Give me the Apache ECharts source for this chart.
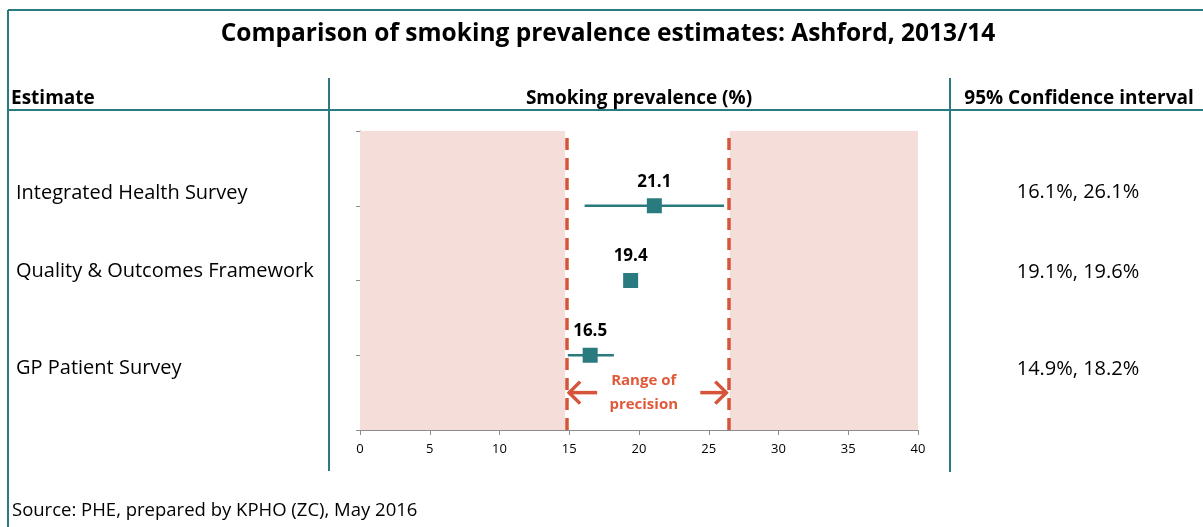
<!DOCTYPE html>
<html><head><meta charset="utf-8">
<script src="https://cdn.jsdelivr.net/npm/echarts@6/dist/echarts.min.js"></script>
<style>html,body{margin:0;padding:0;background:#fff}#c{width:1203px;height:527px}</style>
</head><body><div id="c"></div>
<script>
// ---- data ----
const categories = ['Integrated Health Survey', 'Quality & Outcomes Framework', 'GP Patient Survey'];
const estimates = [21.1, 19.4, 16.5];
const ciLower = [16.1, 19.1, 14.9];
const ciUpper = [26.1, 19.6, 18.2];
const rowPos = [3, 2, 1];
const ciLabels = ['16.1%, 26.1%', '19.1%, 19.6%', '14.9%, 18.2%'];
const precisionRange = [14.85, 26.4];
const shadeLeft = [0, 14.7];
const shadeRight = [26.5, 40];
const xTickLabels = ['0', '5', '10', '15', '20', '25', '30', '35', '40'];

const TEAL = '#2a7b7f';
const RED = '#d6553a';
const FONT = '"Open Sans"';

const chart = echarts.init(document.getElementById('c'), null, {renderer: 'canvas'});

const pointData = estimates.map((v, i) => [v, rowPos[i]]);
const ciData = ciLower.map((lo, i) => [lo, ciUpper[i], rowPos[i]]);

const labelRows = [193, 271, 368];
const ciRows = [192, 272, 369];

const graphics = [
  {type: 'line', shape: {x1: 8, y1: 10, x2: 8, y2: 527}, style: {stroke: TEAL, lineWidth: 2}},
  {type: 'line', shape: {x1: 8, y1: 10, x2: 1203, y2: 10}, style: {stroke: TEAL, lineWidth: 2}},
  {type: 'line', shape: {x1: 8, y1: 110, x2: 1203, y2: 110}, style: {stroke: TEAL, lineWidth: 2}},
  {type: 'line', shape: {x1: 329, y1: 78, x2: 329, y2: 471}, style: {stroke: TEAL, lineWidth: 2}},
  {type: 'line', shape: {x1: 950, y1: 78, x2: 950, y2: 472}, style: {stroke: TEAL, lineWidth: 2}},
  {type: 'text', x: 608, y: 34, style: {text: 'Comparison of smoking prevalence estimates: Ashford, 2013/14', font: 'bold 24.5px ' + FONT, fill: '#000', textAlign: 'center', textVerticalAlign: 'middle'}},
  {type: 'text', x: 11, y: 99, style: {text: 'Estimate', font: 'bold 19px ' + FONT, fill: '#000', textAlign: 'left', textVerticalAlign: 'middle'}},
  {type: 'text', x: 639, y: 99, style: {text: 'Smoking prevalence (%)', font: 'bold 19px ' + FONT, fill: '#000', textAlign: 'center', textVerticalAlign: 'middle'}},
  {type: 'text', x: 1079, y: 99, style: {text: '95% Confidence interval', font: 'bold 19px ' + FONT, fill: '#000', textAlign: 'center', textVerticalAlign: 'middle'}},
  {type: 'text', x: 12, y: 511, style: {text: 'Source: PHE, prepared by KPHO (ZC), May 2016', font: '18.5px ' + FONT, fill: '#000', textAlign: 'left', textVerticalAlign: 'middle'}}
];
categories.forEach((c, i) => {
  graphics.push({type: 'text', x: 16, y: labelRows[i], style: {text: c, font: '20px ' + FONT, fill: '#000', textAlign: 'left', textVerticalAlign: 'middle'}});
  graphics.push({type: 'text', x: 1078, y: ciRows[i], style: {text: ciLabels[i], font: '20px ' + FONT, fill: '#000', textAlign: 'center', textVerticalAlign: 'middle'}});
});

const option = {
  animation: false,
  backgroundColor: '#fff',
  grid: {left: 360, right: 285, top: 131, bottom: 97, containLabel: false},
  xAxis: {
    type: 'value', min: 0, max: 40, interval: 5,
    axisLine: {show: true, lineStyle: {color: '#8c8c8c', width: 1}},
    axisTick: {show: true, length: 5, lineStyle: {color: '#8c8c8c'}},
    axisLabel: {color: '#000', fontSize: 13, fontFamily: FONT, margin: 13,
      formatter: (v) => xTickLabels[Math.round(v / 5)] || ''},
    splitLine: {show: false}
  },
  yAxis: {
    type: 'value', min: 0, max: 4, interval: 1,
    axisLine: {show: true, lineStyle: {color: '#8c8c8c', width: 1}},
    axisTick: {show: true, length: 4, lineStyle: {color: '#8c8c8c'}},
    axisLabel: {show: false},
    splitLine: {show: false}
  },
  graphic: graphics,
  series: [
    {
      type: 'custom', name: 'ci', z: 3,
      data: ciData,
      renderItem: (params, api) => {
        const a = api.coord([api.value(0), api.value(2)]);
        const b = api.coord([api.value(1), api.value(2)]);
        return {type: 'line', shape: {x1: a[0], y1: a[1], x2: b[0], y2: b[1]}, style: {stroke: TEAL, lineWidth: 2.5}};
      },
      markArea: {
        silent: true,
        itemStyle: {color: '#f5ddd9'},
        data: [
          [{xAxis: shadeLeft[0]}, {xAxis: shadeLeft[1]}],
          [{xAxis: shadeRight[0]}, {xAxis: shadeRight[1]}]
        ]
      },
      markLine: {
        silent: true, symbol: 'none',
        label: {show: false},
        lineStyle: {color: RED, width: 3.5, type: [12, 8]},
        data: precisionRange.map(v => ({xAxis: v}))
      }
    },
    {
      type: 'custom', name: 'precision', z: 4,
      data: [[precisionRange[0], precisionRange[1]]],
      renderItem: (params, api) => {
        const l = api.coord([api.value(0), 0.5]);
        const r = api.coord([api.value(1), 0.5]);
        const mid = (l[0] + r[0]) / 2 - 4;
        const st = {stroke: RED, lineWidth: 3.5, fill: null, lineCap: 'butt', lineJoin: 'miter'};
        return {type: 'group', children: [
          {type: 'line', shape: {x1: l[0] + 1, y1: l[1], x2: l[0] + 30, y2: l[1]}, style: st},
          {type: 'polyline', shape: {points: [[l[0] + 13, l[1] - 11], [l[0] + 2, l[1]], [l[0] + 13, l[1] + 11]]}, style: st},
          {type: 'line', shape: {x1: r[0] - 28, y1: r[1], x2: r[0] - 1, y2: r[1]}, style: st},
          {type: 'polyline', shape: {points: [[r[0] - 13, r[1] - 11], [r[0] - 2, r[1]], [r[0] - 13, r[1] + 11]]}, style: st},
          {type: 'text', x: mid, y: l[1] - 12, style: {text: 'Range of', font: 'bold 15px ' + FONT, fill: '#e05a3a', textAlign: 'center', textVerticalAlign: 'middle'}},
          {type: 'text', x: mid, y: l[1] + 12, style: {text: 'precision', font: 'bold 15px ' + FONT, fill: '#e05a3a', textAlign: 'center', textVerticalAlign: 'middle'}}
        ]};
      }
    },
    {
      type: 'scatter', name: 'estimate', z: 5,
      symbol: 'rect', symbolSize: 15,
      itemStyle: {color: TEAL, opacity: 1},
      label: {show: true, position: 'top', distance: 8, color: '#000', fontWeight: 'bold', fontSize: 17, fontFamily: FONT,
        formatter: (p) => p.value[0].toFixed(1)},
      data: pointData
    }
  ]
};
chart.setOption(option);
</script></body></html>
